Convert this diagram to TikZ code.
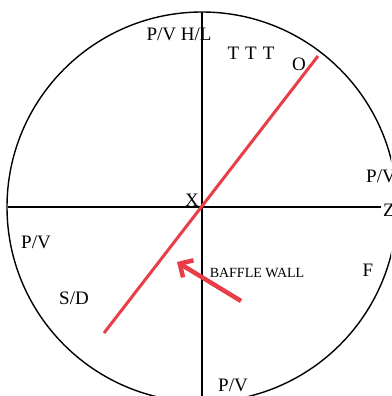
\documentclass[tikz,border=0pt]{standalone}
\usepackage{fontspec}
\setmainfont{Liberation Serif}
\usetikzlibrary{arrows.meta}
\definecolor{wallred}{RGB}{232,62,72}

\begin{document}
\begin{tikzpicture}[x=1pt,y=-1pt,
  lbl/.style={font=\fontsize{19}{19}\selectfont, inner sep=0pt},
  axis/.style={line width=1.4pt},
  wall/.style={wallred, line width=3pt}]
\useasboundingbox (0,0) rectangle (391,396);
\clip (0,0) rectangle (391,396);
% Circulo y ejes
\coordinate (c) at (202,207);
\draw[axis] (c) circle (195pt);
\coordinate (w) at (8,207);
\coordinate (e) at (381,207);
\coordinate (n) at (202,12);
\coordinate (s) at (202,396);
\draw[axis] (w) -- (e);
\draw[axis] (n) -- (s);
% Pared
\coordinate (a) at (104,333);
\coordinate (b) at (318,56);
\draw[wall] (a) -- (b);
\coordinate (tail) at (241,301);
\coordinate (tip) at (177,262);
\draw[wallred, line width=4.5pt, -{Straight Barb[length=10pt,width=20pt]}] (tail) -- (tip);
% Etiquetas
\node[lbl] (pvhl) at (179,34) {P/V H/L};
\node[lbl] (ttt) at (251,53) {T\hspace{6pt}T\hspace{6pt}T};
\node[lbl] (o) at (299,64) {O};
\node[lbl] (x) at (192,200) {X};
\node[lbl] (z) at (389,210) {Z};
\node[lbl, anchor=west] (pvr) at (366,176) {P/V};
\node[lbl] (pvl) at (36,242) {P/V};
\node[lbl] (sd) at (74,298) {S/D};
\node[lbl] (f) at (368,270) {F};
\node[lbl] (pvb) at (233,385) {P/V};
\node[inner sep=0pt, font=\fontsize{14}{14}\selectfont] (bw) at (257,273) {BAFFLE WALL};
\end{tikzpicture}
\end{document}
